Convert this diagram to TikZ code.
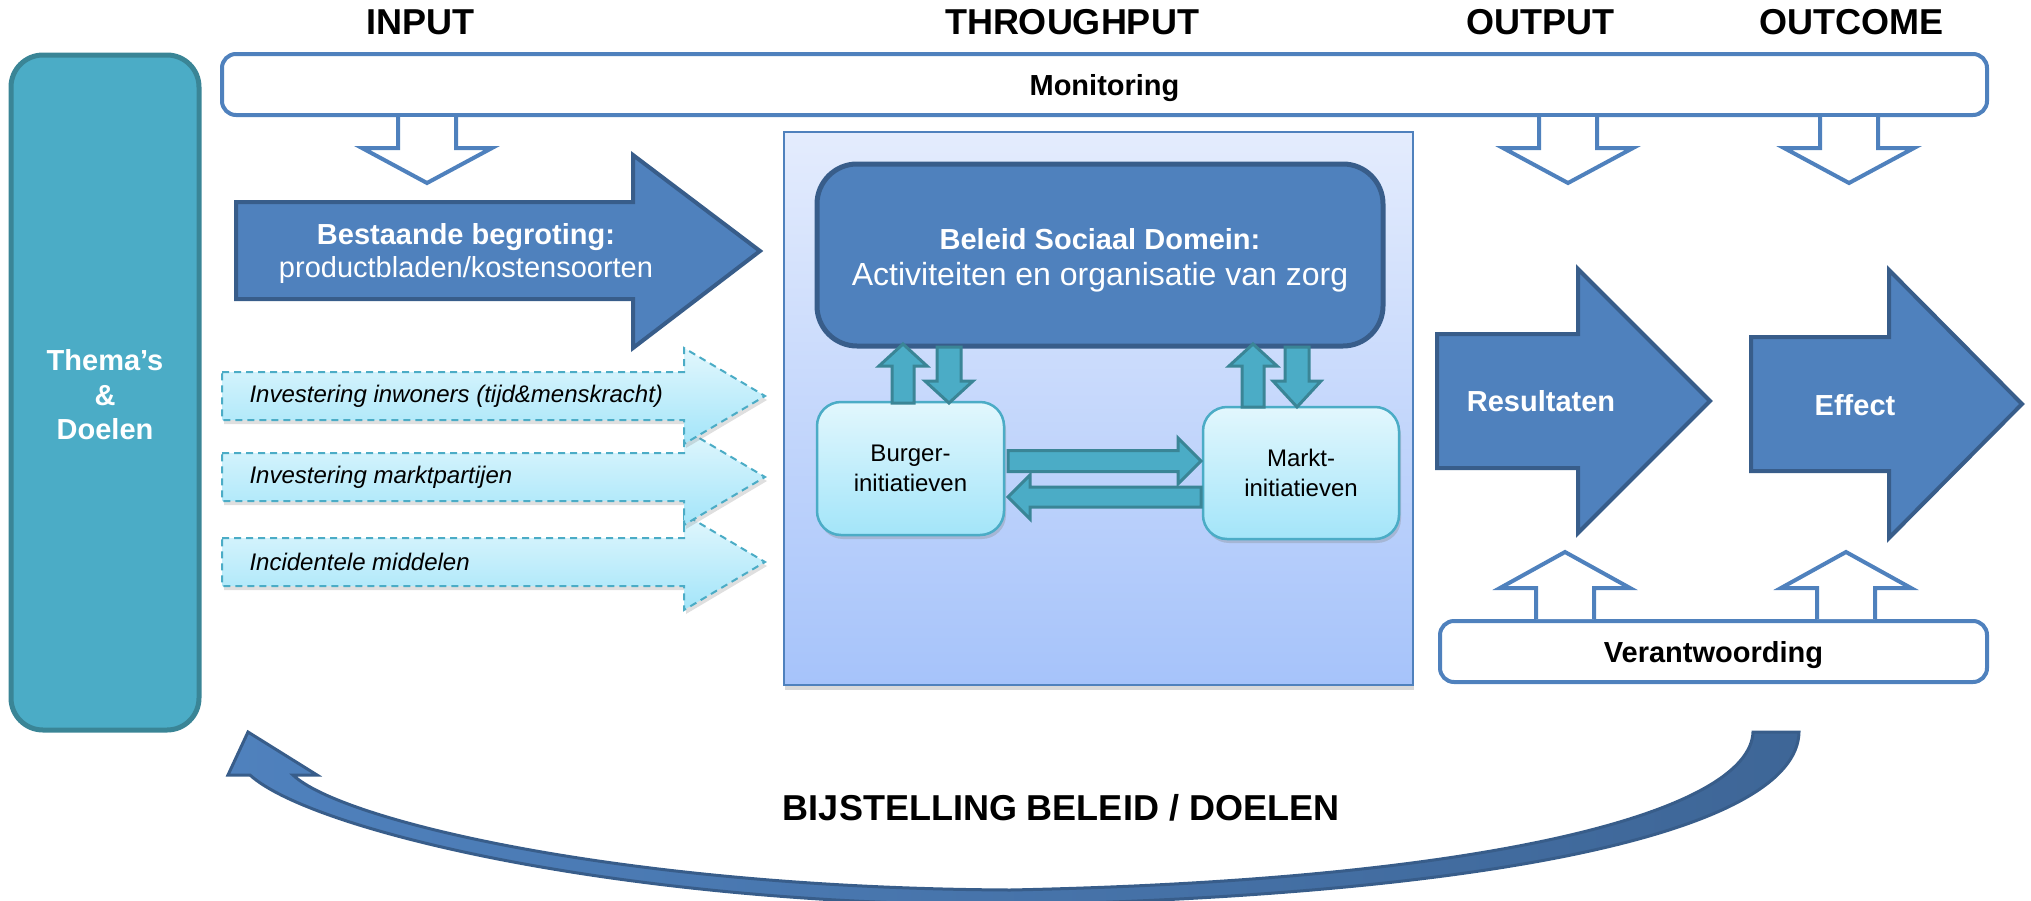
\documentclass[tikz,border=0pt]{standalone}
\usepackage{fontspec}
\setmainfont{Liberation Sans}
\usetikzlibrary{shadows}

\definecolor{midblue}{HTML}{4F81BD}
\definecolor{darkblue}{HTML}{385D8A}
\definecolor{arcdark}{HTML}{3E6697}
\definecolor{themafill}{HTML}{4BACC6}
\definecolor{themaline}{HTML}{3A8596}
\definecolor{cyantop}{HTML}{E2F7FD}
\definecolor{cyanbot}{HTML}{A3E5F9}
\definecolor{paneltop}{HTML}{E4ECFD}
\definecolor{panelbot}{HTML}{A6C3FA}

\begin{document}
\begin{tikzpicture}[x=1pt, y=-1pt, line join=miter,
    header/.style={font=\fontsize{36}{40}\selectfont\bfseries},
    bodytext/.style={font=\fontsize{29}{33}\selectfont, align=center},
    boldtext/.style={font=\fontsize{29}{33}\selectfont\bfseries, align=center, text depth=0pt},
    framebox/.style={draw=midblue, line width=4pt, fill=white, rounded corners=14pt},
    hollow/.style={draw=midblue, line width=4pt, fill=white},
    bigarrow/.style={draw=darkblue, line width=4pt, fill=midblue},
    smallarrow/.style={draw=themaline, line width=3pt, fill=themafill},
    dasharrow/.style={draw=themafill, line width=2pt, dash pattern=on 7pt off 5pt,
        top color=cyantop, bottom color=cyanbot,
        drop shadow={opacity=0.25, shadow xshift=2pt, shadow yshift=-4pt}},
    initbox/.style={draw=themafill, line width=2.5pt, rounded corners=24pt,
        top color=cyantop, bottom color=cyanbot, align=center,
        font=\fontsize{24}{30}\selectfont,
        drop shadow={opacity=0.3, shadow xshift=2pt, shadow yshift=-4pt}}]
\useasboundingbox (0,0) rectangle (2031,900);
\clip (0,0) rectangle (2031,900);

% column headings
\node[header] (input) at (420,22) {INPUT};
\node[header] (through) at (1072,22) {THROUGHPUT};
\node[header] (output) at (1540,22) {OUTPUT};
\node[header] (outcome) at (1851,22) {OUTCOME};

% themes and goals
\node[draw=themaline, line width=5pt, fill=themafill, rounded corners=32pt,
      minimum width=188pt, minimum height=675pt] (themas) at (105,392.5) {};
\node[text=white, align=center, font=\fontsize{29}{34.5}\selectfont\bfseries]
      (themastext) at (105,395) {Thema’s\\\&\\Doelen};

% monitoring bar with its arrows
\node[framebox, boldtext, minimum width=1765pt, minimum height=61pt] (monitor) at (1104.5,84.5) {Monitoring};
\foreach \cx in {427,1568,1849}
  \draw[hollow] (\cx-29,117) -- (\cx-29,148) -- (\cx-65,148) -- (\cx,183)
    -- (\cx+65,148) -- (\cx+29,148) -- (\cx+29,117);

% existing budget
\draw[bigarrow] (236,202) -- (633,202) -- (633,155) -- (760,251) -- (633,348) -- (633,299) -- (236,299) -- cycle;
\node[bodytext, text=white] (budget) at (466,253) {\textbf{Bestaande begroting:}\\productbladen/kostensoorten};

% extra investments
\foreach \cy/\txt [count=\i] in {562/Incidentele middelen, 477/Investering marktpartijen, 396/Investering inwoners (tijd\&menskracht)} {
  \path[dasharrow] (222,\cy-24) -- (684,\cy-24) -- (684,\cy-48) -- (765,\cy)
    -- (684,\cy+48) -- (684,\cy+24) -- (222,\cy+24) -- cycle;
  \node[anchor=west, font=\fontsize{24}{28}\selectfont\itshape] (extra\i) at (246,\cy) {\txt};
}

% throughput panel
\node[draw=midblue, line width=2.5pt, top color=paneltop, bottom color=panelbot,
      minimum width=629pt, minimum height=553pt,
      drop shadow={opacity=0.3, shadow xshift=1pt, shadow yshift=-5pt}] (panel) at (1098.5,408.5) {};
\node[draw=darkblue, line width=5pt, fill=midblue, rounded corners=40pt,
      minimum width=566pt, minimum height=182pt] (beleid) at (1100,255) {};
\node[text=white, align=center, font=\fontsize{32}{36}\selectfont] (beleidtext) at (1100,260)
      {{\fontsize{29}{36}\selectfont\bfseries Beleid Sociaal Domein:}\\Activiteiten en organisatie van zorg};
\node[initbox, minimum width=187pt, minimum height=133pt] (burger) at (910.5,468.5) {Burger-\\initiatieven};
\node[initbox, minimum width=196pt, minimum height=132pt] (markt) at (1301,473) {Markt-\\initiatieven};

\foreach \up/\down/\bot in {903/949/403, 1253/1297/407} {
  \draw[smallarrow] (\up-11,\bot) -- (\up-11,366) -- (\up-24,366) -- (\up,344)
    -- (\up+24,366) -- (\up+11,366) -- (\up+11,\bot) -- cycle;
  \draw[smallarrow] (\down-12,347) -- (\down+12,347) -- (\down+12,381) -- (\down+24,381)
    -- (\down,\bot) -- (\down-24,381) -- (\down-12,381) -- cycle;
}
\draw[smallarrow] (1008,450.5) -- (1178,450.5) -- (1178,438) -- (1201,461) -- (1178,484) -- (1178,471.5) -- (1008,471.5) -- cycle;
\draw[smallarrow] (1201,487) -- (1030,487) -- (1030,475) -- (1008,497) -- (1030,519) -- (1030,507) -- (1201,507) -- cycle;

% output and outcome
\draw[bigarrow] (1437,334) -- (1578,334) -- (1578,269) -- (1710,401) -- (1578,533) -- (1578,468) -- (1437,468) -- cycle;
\node[boldtext, text=white] (result) at (1541,401) {Resultaten};
\draw[bigarrow] (1751,337) -- (1889,337) -- (1889,270) -- (2022,404) -- (1889,538) -- (1889,471) -- (1751,471) -- cycle;
\node[boldtext, text=white] (effect) at (1855,405) {Effect};

% accountability
\node[framebox, boldtext, minimum width=547pt, minimum height=61pt] (verant) at (1713.5,651.5) {Verantwoording};
\foreach \cx in {1565,1846}
  \draw[hollow] (\cx-29,619) -- (\cx-29,588) -- (\cx-65,588) -- (\cx,552)
    -- (\cx+65,588) -- (\cx+29,588) -- (\cx+29,619);

% feedback loop
\path[draw=darkblue, line width=3pt, left color=midblue, right color=arcdark]
  (1799,732) .. controls (1797,830) and (1500,895) .. (1010,905)
  .. controls (620,905) and (310,830) .. (250,775)
  -- (228,775) -- (248,732) -- (317,775) -- (293,775)
  .. controls (340,820) and (620,888) .. (1010,890)
  .. controls (1500,880) and (1750,810) .. (1753,732) -- cycle;
\node[header] (adjust) at (1061,808) {BIJSTELLING BELEID / DOELEN};
\end{tikzpicture}
\end{document}
